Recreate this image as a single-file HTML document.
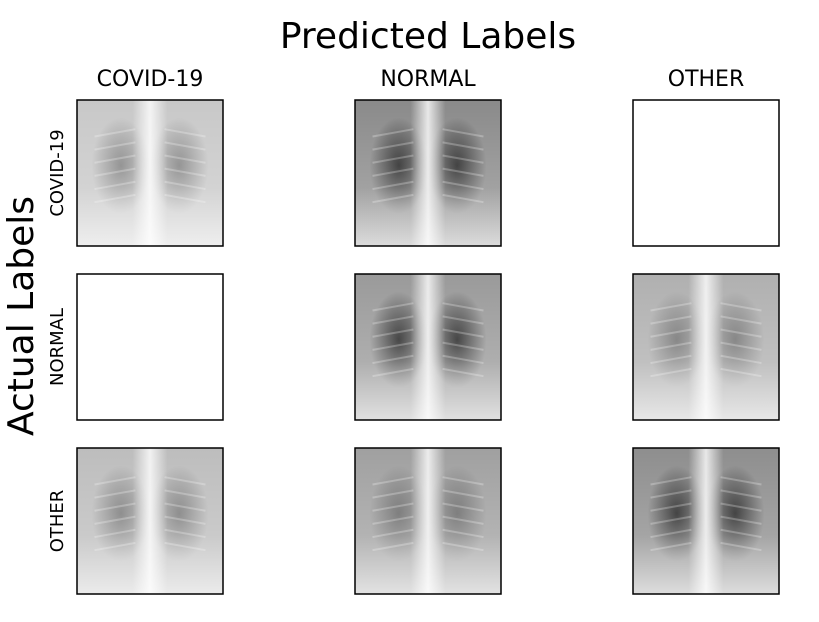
<!DOCTYPE html>
<html><head><meta charset="utf-8"><style>
body{margin:0;background:#fff;width:819px;height:618px;overflow:hidden;font-family:"DejaVu Sans","Liberation Sans",sans-serif}
</style></head><body>
<svg width="819" height="618">
<defs>
<linearGradient id="spine" x1="0" x2="1"><stop offset="0" stop-color="#fff" stop-opacity="0"/><stop offset=".5" stop-color="#fff" stop-opacity=".8"/><stop offset="1" stop-color="#fff" stop-opacity="0"/></linearGradient>
<radialGradient id="lung"><stop offset="0" stop-color="#000" stop-opacity=".75"/><stop offset="1" stop-color="#000" stop-opacity="0"/></radialGradient>
<radialGradient id="lungl"><stop offset="0" stop-color="#000" stop-opacity=".35"/><stop offset="1" stop-color="#000" stop-opacity="0"/></radialGradient>
<linearGradient id="vfade" x1="0" y1="0" x2="0" y2="1"><stop offset="0" stop-color="#fff" stop-opacity="0"/><stop offset=".6" stop-color="#fff" stop-opacity=".2"/><stop offset="1" stop-color="#fff" stop-opacity=".7"/></linearGradient>
</defs>
<text x="428" y="48" font-size="36" text-anchor="middle">Predicted Labels</text>
<text transform="translate(33,316) rotate(-90)" font-size="36" text-anchor="middle">Actual Labels</text>
<g id="cells"></g>
</svg>
<script>
const cols=["COVID-19","NORMAL","OTHER"];
const rows=["COVID-19","NORMAL","OTHER"];
// base gray of each cell image, null = empty
const bases=[["#c8c8c8","#8a8a8a",null],[null,"#9a9a9a","#b0b0b0"],["#bdbdbd","#a0a0a0","#8e8e8e"]];
const lungStrength=[["lungl","lung",null],[null,"lung","lungl"],["lungl","lungl","lung"]];
const xs=[77,355,633], ys=[100,274,448], W=146,H=146;
const svgNS="http://www.w3.org/2000/svg";
const g=document.getElementById('cells');
function mk(t,a){const e=document.createElementNS(svgNS,t);for(const k in a)e.setAttribute(k,a[k]);return e;}
cols.forEach((c,i)=>{const t=mk('text',{x:xs[i]+W/2,y:86,'font-size':22,'text-anchor':'middle'});t.textContent=c;


g.appendChild(t);});
rows.forEach((r,j)=>{const t=mk('text',{transform:`translate(63,${ys[j]+H/2}) rotate(-90)`,'font-size':18,'text-anchor':'middle'});t.textContent=r;


g.appendChild(t);});
for(let j=0;j<3;j++)for(let i=0;i<3;i++){
 const x=xs[i],y=ys[j];const grp=mk('g',{});
 
 
 if(bases[j][i]){
  grp.appendChild(mk('rect',{x:x,y:y,width:W,height:H,fill:bases[j][i]}));
  const L=lungStrength[j][i];
  grp.appendChild(mk('ellipse',{cx:x+W*0.3,cy:y+H*0.45,rx:W*0.2,ry:H*0.33,fill:`url(#${L})`}));
  grp.appendChild(mk('ellipse',{cx:x+W*0.7,cy:y+H*0.45,rx:W*0.2,ry:H*0.33,fill:`url(#${L})`}));
  grp.appendChild(mk('rect',{x:x+W*0.38,y:y,width:W*0.24,height:H,fill:'url(#spine)'}));
  grp.appendChild(mk('rect',{x:x,y:y,width:W,height:H,fill:'url(#vfade)'}));
  for(let k=0;k<6;k++){grp.appendChild(mk('line',{x1:x+W*0.12,y1:y+H*(0.25+k*0.09),x2:x+W*0.4,y2:y+H*(0.2+k*0.09),stroke:'#fff','stroke-opacity':.25,'stroke-width':2}));
   grp.appendChild(mk('line',{x1:x+W*0.88,y1:y+H*(0.25+k*0.09),x2:x+W*0.6,y2:y+H*(0.2+k*0.09),stroke:'#fff','stroke-opacity':.25,'stroke-width':2}));}
 }
 grp.appendChild(mk('rect',{x:x,y:y,width:W,height:H,fill:'none',stroke:'#000','stroke-width':1.5}));
 g.appendChild(grp);
}
</script>
</body></html>
